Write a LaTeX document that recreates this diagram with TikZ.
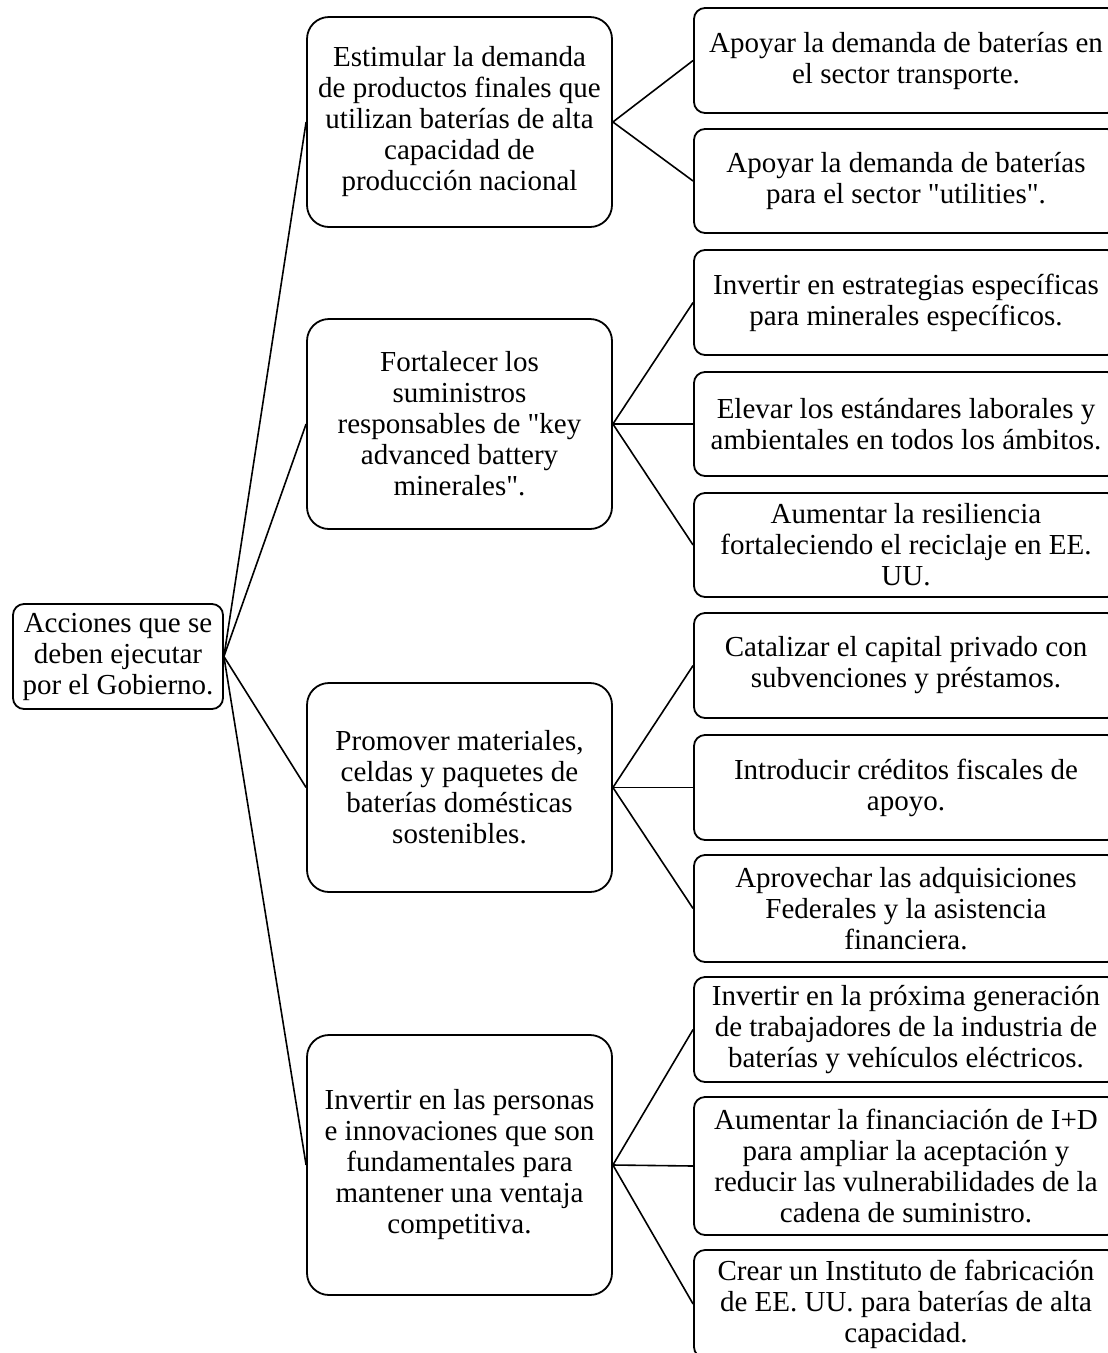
\documentclass[tikz,border=0pt]{standalone}
\usepackage{fontspec}
\setmainfont{Liberation Serif}

\begin{document}
\begin{tikzpicture}[x=1pt, y=-1pt,
    caja/.style={draw, line width=1.8pt, align=center, inner sep=0pt,
        font=\fontsize{29}{31}\selectfont},
    raiz/.style={caja, rounded corners=11pt, minimum width=210pt, minimum height=105pt},
    accion/.style={caja, rounded corners=22pt, minimum width=305pt},
    medida/.style={caja, rounded corners=11pt, minimum width=424pt},
    enlace/.style={line width=1.6pt}]

    % Marco de la figura
    \useasboundingbox (0,0) rectangle (1108,1353);

    % Nodo raiz
    \node[raiz] (gobierno) at (118,656.5) {Acciones que se\\deben ejecutar\\por el Gobierno.};

    % Acciones (columna central)
    \node[accion, minimum height=210pt] (estimular) at (459.5,122) {Estimular la demanda\\de productos finales que\\utilizan baterías de alta\\capacidad de\\producción nacional};
    \node[accion, minimum height=210pt] (fortalecer) at (459.5,424) {Fortalecer los\\suministros\\responsables de \textquotedbl key\\advanced battery\\minerales\textquotedbl .};
    \node[accion, minimum height=209pt] (promover) at (459.5,787.5) {Promover materiales,\\celdas y paquetes de\\baterías domésticas\\sostenibles.};
    \node[accion, minimum height=260pt] (invertir) at (459.5,1165) {Invertir en las personas\\e innovaciones que son\\fundamentales para\\mantener una ventaja\\competitiva.};

    % Medidas (columna derecha)
    \node[medida, minimum height=105pt] (transporte) at (906,60.5) {Apoyar la demanda de baterías en\\el sector transporte.};
    \node[medida, minimum height=104pt] (utilities) at (906,181) {Apoyar la demanda de baterías\\para el sector \textquotedbl utilities\textquotedbl .};
    \node[medida, minimum height=105pt] (minerales) at (906,302.5) {Invertir en estrategias específicas\\para minerales específicos.};
    \node[medida, minimum height=104pt] (estandares) at (906,424) {Elevar los estándares laborales y\\ambientales en todos los ámbitos.};
    \node[medida, minimum height=104pt] (reciclaje) at (906,545) {Aumentar la resiliencia\\fortaleciendo el reciclaje en EE.\\UU.};
    \node[medida, minimum height=105pt] (capital) at (906,665.5) {Catalizar el capital privado con\\subvenciones y préstamos.};
    \node[medida, minimum height=105pt] (creditos) at (906,787.5) {Introducir créditos fiscales de\\apoyo.};
    \node[medida, minimum height=107pt] (adquisiciones) at (906,908.5) {Aprovechar las adquisiciones\\Federales y la asistencia\\financiera.};
    \node[medida, minimum height=105pt] (trabajadores) at (906,1029.5) {Invertir en la próxima generación\\de trabajadores de la industria de\\baterías y vehículos eléctricos.};
    \node[medida, minimum height=138pt] (financiacion) at (906,1166) {Aumentar la financiación de I+D\\para ampliar la aceptación y\\reducir las vulnerabilidades de la\\cadena de suministro.};
    \node[medida, minimum height=108pt] (instituto) at (906,1304) {Crear un Instituto de fabricación\\de EE. UU. para baterías de alta\\capacidad.};

    % Enlaces raiz -> acciones
    \draw[enlace] (gobierno.east) -- (estimular.west);
    \draw[enlace] (gobierno.east) -- (fortalecer.west);
    \draw[enlace] (gobierno.east) -- (promover.west);
    \draw[enlace] (gobierno.east) -- (invertir.west);

    % Enlaces acciones -> medidas
    \draw[enlace] (estimular.east) -- (transporte.west);
    \draw[enlace] (estimular.east) -- (utilities.west);
    \draw[enlace] (fortalecer.east) -- (minerales.west);
    \draw[enlace] (fortalecer.east) -- (estandares.west);
    \draw[enlace] (fortalecer.east) -- (reciclaje.west);
    \draw[enlace] (promover.east) -- (capital.west);
    \draw[enlace] (promover.east) -- (creditos.west);
    \draw[enlace] (promover.east) -- (adquisiciones.west);
    \draw[enlace] (invertir.east) -- (trabajadores.west);
    \draw[enlace] (invertir.east) -- (financiacion.west);
    \draw[enlace] (invertir.east) -- (instituto.west);

\end{tikzpicture}
\end{document}
